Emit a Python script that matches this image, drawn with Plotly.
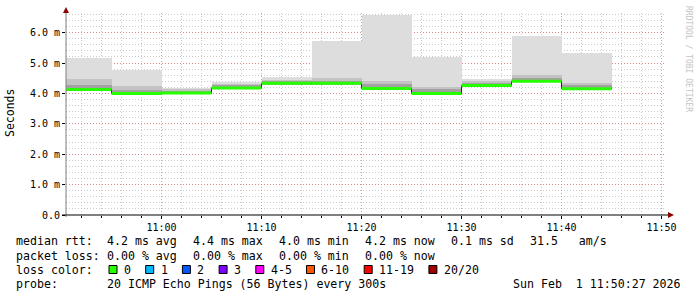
import plotly.graph_objects as go

# ---------------- data ----------------
step_starts = ["2026-02-01 10:50:00", "2026-02-01 10:55:00", "2026-02-01 11:00:00",
               "2026-02-01 11:05:00", "2026-02-01 11:10:00", "2026-02-01 11:15:00",
               "2026-02-01 11:20:00", "2026-02-01 11:25:00", "2026-02-01 11:30:00",
               "2026-02-01 11:35:00", "2026-02-01 11:40:00"]
last_end = "2026-02-01 11:45:00"
median_ms = [4.13, 4.00, 4.01, 4.18, 4.33, 4.33, 4.16, 4.00, 4.26, 4.40, 4.15]
ping_min = [4.09, 3.96, 3.97, 4.14, 4.29, 4.29, 4.12, 3.96, 4.22, 4.36, 4.11]
ping_dark = [4.29, 4.12, 4.08, 4.29, 4.40, 4.42, 4.32, 4.13, 4.35, 4.50, 4.29]
ping_mid = [4.46, 4.23, 4.15, 4.32, 4.44, 4.51, 4.40, 4.21, 4.40, 4.59, 4.35]
ping_max = [5.16, 4.77, 4.18, 4.38, 4.53, 5.72, 6.59, 5.19, 4.46, 5.88, 5.34]

y_tick_vals = [0, 1, 2, 3, 4, 5, 6]
y_tick_text = ["0.0", "1.0 m", "2.0 m", "3.0 m", "4.0 m", "5.0 m", "6.0 m"]

rtt_stats = ["4.2 ms avg", "4.4 ms max", "4.0 ms min", "4.2 ms now", "0.1 ms sd", "31.5   am/s"]
loss_stats = ["0.00 % avg", "0.00 % max", "0.00 % min", "0.00 % now"]
loss_labels = ["0", "1", "2", "3", "4-5", "6-10", "11-19", "20/20"]
loss_colors = ["#26ff00", "#00b8ff", "#0059ff", "#7e00ff", "#ff00ff", "#ff5500", "#ff0000", "#a10000"]
probe_text = "20 ICMP Echo Pings (56 Bytes) every 300s"
date_text = "Sun Feb  1 11:50:27 2026"

# ---------------- geometry ----------------
W, H = 697, 297
L, R, T, B = 66, 666, 13, 215
pw, ph = R - L, B - T
YMAX = 6.645

def px(x):
    return (x - L) / pw

def py(y):
    return (B - y) / ph

mono = "DejaVu Sans Mono"
fig = go.Figure()

# smoke bands
for top, col in [(ping_max, "#dddddd"), (ping_mid, "#c3c3c3"), (ping_dark, "#a2a2a2")]:
    fig.add_trace(go.Bar(
        x=step_starts, base=ping_min, y=[t - b for t, b in zip(top, ping_min)],
        width=300000, offset=0, marker=dict(color=col, line=dict(width=0)),
        hoverinfo="skip", showlegend=False))

# median black step line
fig.add_trace(go.Scatter(
    x=step_starts + [last_end], y=median_ms + [median_ms[-1]],
    mode="lines", line=dict(color="#202020", width=1, shape="hv"),
    hoverinfo="skip", showlegend=False))

# green median segments
gx, gy = [], []
ends = step_starts[1:] + [last_end]
for s, e, m in zip(step_starts, ends, median_ms):
    gx += [s, e, None]
    gy += [m, m, None]
fig.add_trace(go.Scatter(x=gx, y=gy, mode="lines",
                         line=dict(color=loss_colors[0], width=3),
                         hoverinfo="skip", showlegend=False))

grid_minor = "rgba(175,175,175,0.65)"
grid_major = "rgba(225,110,110,0.7)"
dash = "1px,2px"

fig.update_layout(
    width=W, height=H,
    margin=dict(l=L, r=W - R, t=T, b=H - B, pad=0),
    paper_bgcolor="white", plot_bgcolor="white",
    barmode="overlay", bargap=0,
    showlegend=False,
    xaxis=dict(
        type="date",
        range=["2026-02-01 10:50:27", "2026-02-01 11:50:27"],
        tick0="2026-02-01 11:00:00", dtick=600000, tickformat="%H:%M",
        showgrid=True, gridcolor=grid_major, griddash=dash, gridwidth=1,
        minor=dict(dtick=120000, showgrid=True, gridcolor=grid_minor,
                   griddash=dash, ticks="outside", ticklen=2, tickcolor="#000"),
        ticks="outside", ticklen=3, tickcolor="#000",
        tickfont=dict(family=mono, size=10, color="#000"),
        showline=False, zeroline=False, fixedrange=True,
    ),
    yaxis=dict(
        range=[0, YMAX],
        tickvals=y_tick_vals, ticktext=y_tick_text,
        showgrid=True, gridcolor=grid_major, griddash=dash, gridwidth=1,
        minor=dict(dtick=0.2, showgrid=True, gridcolor=grid_minor, griddash=dash),
        ticks="outside", ticklen=3, tickcolor="#000",
        tickfont=dict(family=mono, size=10, color="#000"),
        showline=False, zeroline=False, fixedrange=True,
    ),
)

shapes = []
# axes
shapes.append(dict(type="line", xref="paper", yref="paper", x0=px(66), x1=px(66),
                   y0=py(217), y1=py(11), line=dict(color="#7f7f7f", width=1)))
shapes.append(dict(type="line", xref="paper", yref="paper", x0=px(62), x1=px(669),
                   y0=py(215), y1=py(215), line=dict(color="#000000", width=1)))
# arrows
shapes.append(dict(type="path", xref="paper", yref="paper",
                   path=f"M {px(63)} {py(13)} L {px(69)} {py(13)} L {px(66)} {py(7)} Z",
                   fillcolor="#8b0000", line=dict(width=0)))
shapes.append(dict(type="path", xref="paper", yref="paper",
                   path=f"M {px(668)} {py(212)} L {px(668)} {py(218)} L {px(674)} {py(215)} Z",
                   fillcolor="#8b0000", line=dict(width=0)))

ann = []
def text(x, y, s, anchor="left", size=11.6, color="#000", angle=0, family=mono):
    ann.append(dict(x=px(x), y=py(y), xref="paper", yref="paper", text=s,
                    showarrow=False, xanchor=anchor, yanchor="middle",
                    borderpad=0, borderwidth=0, textangle=angle,
                    font=dict(family=family, size=size, color=color)))

CW = 7.0
# y title & watermark
text(10, 113, "Seconds", anchor="center", size=11.5, angle=-90)
text(688, 59, "RRDTOOL / TOBI OETIKER", anchor="center", size=8, color="#c4c4c4", angle=90)

# legend rows
rows_y = [241, 255.5, 269.5, 283.5]
text(16, rows_y[0], "median rtt:")
x = 107
for s in rtt_stats:
    text(x, rows_y[0], s.replace(" ", "&nbsp;"))
    x += CW * len(s) + 16
text(16, rows_y[1], "packet loss:")
x = 107
for s in loss_stats:
    text(x, rows_y[1], s.replace(" ", "&nbsp;"))
    x += CW * len(s) + 16
text(16, rows_y[2], "loss color:")
tx = 124
for lab, col in zip(loss_labels, loss_colors):
    bx = tx - 15
    shapes.append(dict(type="rect", xref="paper", yref="paper",
                       x0=px(bx), x1=px(bx + 8), y0=py(273.5), y1=py(265.5),
                       fillcolor=col, line=dict(color="#000", width=1)))
    text(tx, rows_y[2], lab)
    tx += 29.7 + CW * len(lab)
text(16, rows_y[3], "probe:")
text(107, rows_y[3], probe_text)
text(681, rows_y[3], date_text.replace(" ", "&nbsp;"), anchor="right")

fig.update_layout(shapes=shapes, annotations=ann)
fig.write_html("out.html")
